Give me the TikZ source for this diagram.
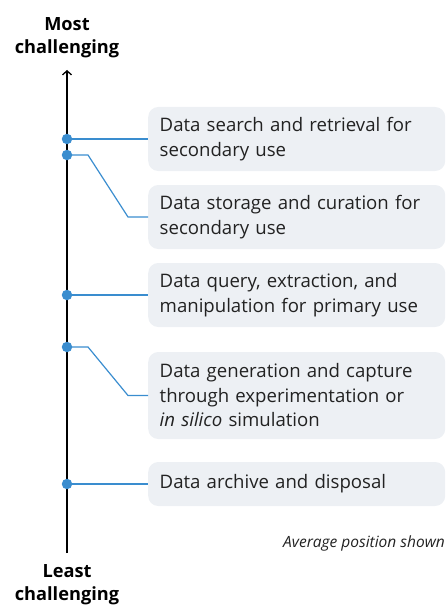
\documentclass[tikz,border=0pt]{standalone}
\usepackage{fontspec}
\setmainfont{Open Sans}
\usetikzlibrary{arrows.meta}
\definecolor{conn}{HTML}{3A8DCF}
\definecolor{boxfill}{HTML}{EDF0F4}
\definecolor{txt}{HTML}{222222}
\begin{document}
\begin{tikzpicture}[x=1pt,y=-1pt,
  stepbox/.style={anchor=west, fill=boxfill, rounded corners=10pt, minimum width=297pt,
    text width=274pt, inner xsep=11.5pt, align=left, text=txt,
    font=\fontsize{18.6}{24.5}\selectfont},
  connline/.style={draw=conn, line width=1.2pt},
  dot/.style={circle, fill=conn, inner sep=0pt, minimum size=10.5pt},
  endlabel/.style={align=center, font=\bfseries\fontsize{18.2}{23}\selectfont, text=black}]
\useasboundingbox (0,0) rectangle (447,607);
% end labels
\node[endlabel] (most) at (67,38) {Most\\challenging};
\node[endlabel] (least) at (67,585) {Least\\challenging};
% axis
\coordinate (top) at (67,70);
\coordinate (bot) at (67,553);
\draw[line width=1.3pt, -{Straight Barb[length=4pt,width=9pt]}] (bot) -- (top);
% boxes
\node[stepbox, minimum height=64pt] (b1) at (148,139) {Data search and retrieval for\\secondary use};
\node[stepbox, minimum height=64pt] (b2) at (148,217) {Data storage and curation for\\secondary use};
\node[stepbox, minimum height=64pt] (b3) at (148,295) {Data query, extraction, and\\manipulation for primary use};
\node[stepbox, minimum height=87pt] (b4) at (148,395.5) {Data generation and capture\\through experimentation or\\\textit{in silico} simulation};
\node[stepbox, minimum height=44pt] (b5) at (148,484) {Data archive and disposal};
% dots
\coordinate (d1) at (67,139);
\coordinate (d2) at (67,155);
\coordinate (d3) at (67,295);
\coordinate (d4) at (67,347);
\coordinate (d5) at (67,484);
% connectors
\draw[connline] (d1) -- (b1.west);
\draw[connline] (d2) -- (88,155) -- (128,217) -- (b2.west);
\draw[connline] (d3) -- (b3.west);
\draw[connline] (d4) -- (88,347) -- (128,395.5) -- (b4.west);
\draw[connline] (d5) -- (b5.west);
\foreach \d in {d1,d2,d3,d4,d5} \node[dot] at (\d) {};
% note
\node[anchor=east, inner sep=0pt, font=\itshape\fontsize{15.5}{18}\selectfont, text=txt] (note) at (445,543) {Average position shown};
\end{tikzpicture}
\end{document}
